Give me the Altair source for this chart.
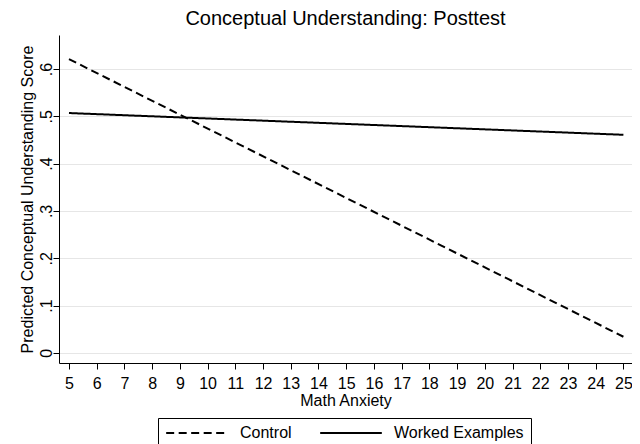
import altair as alt
import pandas as pd

groups = ["Control", "Control", "Worked Examples", "Worked Examples"]
anxiety = [5, 25, 5, 25]
scores = [0.621, 0.034, 0.507, 0.461]

df = pd.DataFrame({"group": groups, "anxiety": anxiety, "score": scores})

FONT = "Liberation Sans"

chart = alt.Chart(df).mark_line(color="black", strokeWidth=2, clip=False).encode(
    x=alt.X("anxiety:Q", scale=alt.Scale(domain=[4.64, 25.31], nice=False, zero=False),
            axis=alt.Axis(values=list(range(5, 26)), title="Math Anxiety", grid=False,
                          labelFontSize=16, titleFontSize=16, tickSize=6, labelPadding=6,
                          titleBaseline="alphabetic", titleY=42, labelFlush=False)),
    y=alt.Y("score:Q", scale=alt.Scale(domain=[-0.0215, 0.672], nice=False, zero=False),
            axis=alt.Axis(values=[0, 0.1, 0.2, 0.3, 0.4, 0.5, 0.6],
                          title="Predicted Conceptual Understanding Score",
                          labelExpr="datum.value == 0 ? '0' : '.' + round(datum.value*10)",
                          labelAngle=-90, labelAlign="center", labelBaseline="alphabetic",
                          labelFontSize=16, titleFontSize=16, tickSize=6, labelPadding=2,
                          titleAngle=-90, titleBaseline="alphabetic", titleAlign="center",
                          titleX=-27, titleY=164,
                          gridColor="#e6e6e6", labelFlush=False)),
    strokeDash=alt.StrokeDash("group:N",
                              scale=alt.Scale(domain=["Control", "Worked Examples"],
                                              range=[[8, 4.5], [1, 0]]),
                              legend=alt.Legend(title=None, orient="none", direction="horizontal",
                                                legendX=99, legendY=383,
                                                symbolType="stroke", symbolSize=3800,
                                                symbolStrokeColor="black", symbolStrokeWidth=2,
                                                labelFontSize=16, labelOffset=11, clipHeight=16,
                                                labelExpr="datum.label == 'Worked Examples' ? datum.label + '\u00a0\u00a0\u00a0' : datum.label",
                                                strokeColor="black",
                                                padding=7, columnPadding=27)),
).properties(
    width=573,
    height=328,
    autosize=alt.AutoSizeParams(type="none"),
    padding={"left": 51, "top": 27, "right": 0, "bottom": 90},
    title=alt.TitleParams("Conceptual Understanding: Posttest", fontSize=20,
                          fontWeight="normal", font=FONT, offset=6, color="black"),
).configure_axis(
    domainColor="black", tickColor="black", labelColor="black", titleColor="black",
    labelFont=FONT, titleFont=FONT, titleFontWeight="normal",
).configure_legend(
    labelFont=FONT, labelColor="black",
).configure_view(
    strokeWidth=0,
)

chart.save("out.html", embed_options={"renderer": "svg", "actions": False})
